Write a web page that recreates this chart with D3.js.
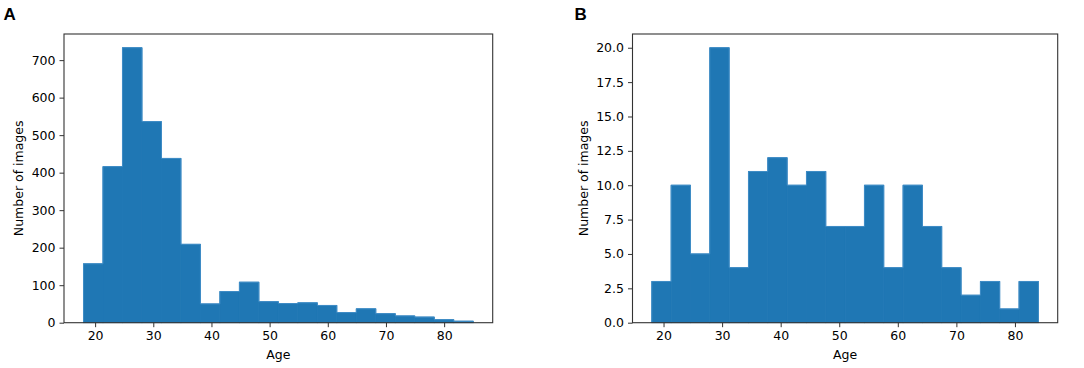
<!DOCTYPE html>
<html>
<head>
<meta charset="utf-8">
<script src="https://cdn.jsdelivr.net/npm/d3@7"></script>
<style>
  body { margin: 0; background: #fff; }
  svg text { font-family: "DejaVu Sans", sans-serif; fill: #000; }
  .panel-label { font-family: "Liberation Sans", Arial, sans-serif; font-weight: bold; font-size: 17px; }
</style>
</head>
<body>
<div id="container"></div>
<script>
const width = 1084,
  height = 368;

// panel A: age histogram, 20 bins from 18 to 85
const rangeA = [18, 85];
const countsA = [157, 416, 733, 536, 438, 209, 50, 83, 108, 56, 51, 53, 46, 27, 37, 24, 18, 15, 8, 4];
const yTicksA = [0, 100, 200, 300, 400, 500, 600, 700];

// panel B: age histogram, 20 bins from 18 to 84
const rangeB = [18, 84];
const countsB = [3, 10, 5, 20, 4, 11, 12, 10, 11, 7, 7, 10, 4, 10, 7, 4, 2, 3, 1, 3];
const yTicksB = [0, 2.5, 5, 7.5, 10, 12.5, 15, 17.5, 20];

const xTicks = [20, 30, 40, 50, 60, 70, 80];

const svg = d3.select("#container").append("svg")
  .attr("width", width)
  .attr("height", height)

function drawHist(opts) {
  const { left, right, top, bottom, range, counts, yTicks, yFormat, label, labelX, yLabelX } = opts
  const n = counts.length
  const step = (range[1] - range[0]) / n
  const bins = counts.map((c, i) => ({ x0: range[0] + i * step, x1: range[0] + (i + 1) * step, count: c }))

  const pad = (range[1] - range[0]) * 0.05
  const xScale = d3.scaleLinear()
    .domain([range[0] - pad, range[1] + pad])
    .range([left, right])

  const yMax = d3.max(counts) * 1.05
  const yScale = d3.scaleLinear()
    .domain([0, yMax])
    .range([bottom, top])

  const g = svg.append("g")

  // bars (stroked in fill colour so no seams show between them)
  g.selectAll("rect.bar")
    .data(bins)
    .join("rect")
    .attr("class", "bar")
    .attr("x", d => xScale(d.x0))
    .attr("y", d => yScale(d.count))
    .attr("width", d => xScale(d.x1) - xScale(d.x0))
    .attr("height", d => yScale(0) - yScale(d.count))
    .attr("fill", "#1f77b4")
    .attr("stroke", "#1f77b4")
    .attr("stroke-width", 0.8)

  // step outline
  const pts = [[bins[0].x0, 0]]
  bins.forEach(b => { pts.push([b.x0, b.count]); pts.push([b.x1, b.count]) })
  pts.push([bins[n - 1].x1, 0])
  g.append("path")
    .attr("d", d3.line().x(d => xScale(d[0])).y(d => yScale(d[1]))(pts))
    .attr("fill", "none")
    .attr("stroke", "#3f8cc6")
    .attr("stroke-width", 1)

  // axes
  const xAxis = d3.axisBottom(xScale).tickValues(xTicks).tickSize(4.5).tickPadding(4).tickSizeOuter(0)
  const yAxis = d3.axisLeft(yScale).tickValues(yTicks).tickSize(4.5).tickPadding(4).tickSizeOuter(0).tickFormat(yFormat)

  const gx = g.append("g")
    .attr("transform", `translate(0, ${bottom})`)
    .call(xAxis)
  const gy = g.append("g")
    .attr("transform", `translate(${left}, 0)`)
    .call(yAxis)
  ;[gx, gy].forEach(a => {
    a.select(".domain").remove()
    a.selectAll("line").attr("stroke", "#333")
    a.selectAll("text").style("font-size", "12.5px").attr("fill", "#000").style("font-family", "DejaVu Sans")
  })

  // frame
  g.append("rect")
    .attr("x", left)
    .attr("y", top)
    .attr("width", right - left)
    .attr("height", bottom - top)
    .attr("fill", "none")
    .attr("stroke", "#333")
    .attr("stroke-width", 1.1)

  g.append("text")
    .attr("text-anchor", "middle")
    .style("font-size", "12.5px")
    .attr("x", (left + right) / 2)
    .attr("y", 359)
    .text("Age")

  g.append("text")
    .attr("text-anchor", "middle")
    .attr("transform", `translate(${yLabelX}, ${(top + bottom) / 2}) rotate(-90)`)
    .attr("dy", "0.35em")
    .style("font-size", "12.5px")
    .text("Number of images")

  svg.append("text")
    .attr("class", "panel-label")
    .attr("x", labelX)
    .attr("y", 20)
    .text(label)
}

drawHist({
  left: 64, right: 492.7, top: 34, bottom: 322.7,
  range: rangeA, counts: countsA, yTicks: yTicksA, yFormat: d3.format("d"),
  label: "A", labelX: 3.5, yLabelX: 18.5
})

drawHist({
  left: 632.5, right: 1057.7, top: 34, bottom: 322.7,
  range: rangeB, counts: countsB, yTicks: yTicksB, yFormat: d3.format(".1f"),
  label: "B", labelX: 574.5, yLabelX: 583.5
})
</script>
</body>
</html>
